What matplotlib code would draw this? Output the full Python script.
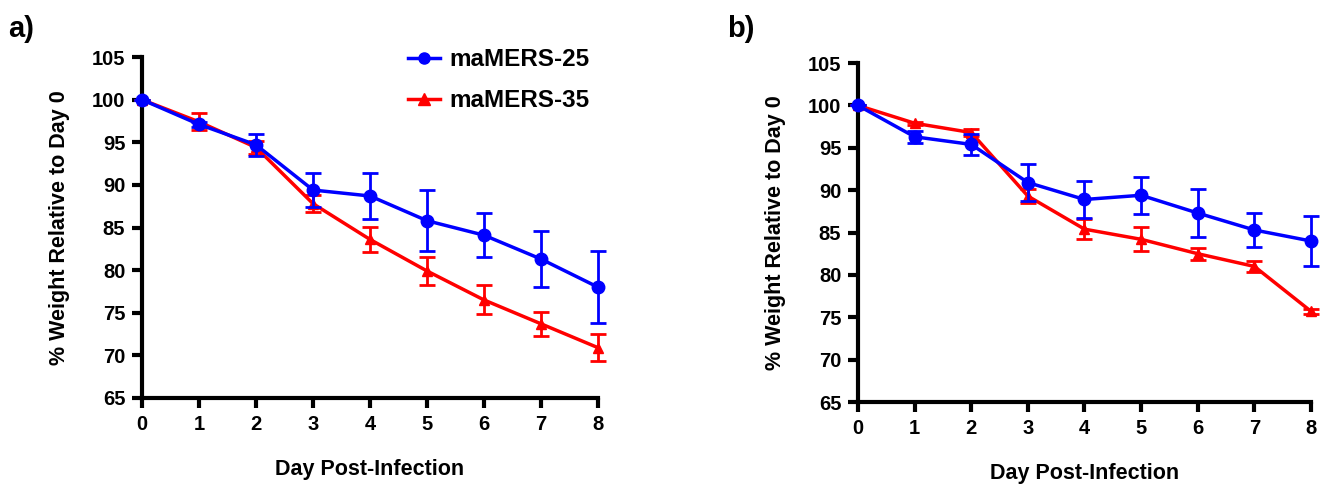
import matplotlib.pyplot as plt
from matplotlib.lines import Line2D
import numpy as np

plt.rcParams['font.family'] = ['Liberation Sans', 'DejaVu Sans']
plt.rcParams['font.weight'] = 'bold'

days = np.arange(0, 9)

# panel a
a_blue = [100, 97.1, 94.7, 89.4, 88.7, 85.8, 84.1, 81.3, 78.0]
a_blue_err = [0, 0.3, 1.3, 2.0, 2.7, 3.6, 2.6, 3.3, 4.2]
a_red = [100, 97.4, 94.4, 87.8, 83.6, 79.9, 76.5, 73.7, 70.9]
a_red_err = [0, 1.0, 0.8, 1.0, 1.5, 1.6, 1.7, 1.4, 1.6]

# panel b
b_blue = [100, 96.3, 95.4, 90.9, 88.9, 89.4, 87.3, 85.3, 84.0]
b_blue_err = [0, 0.7, 1.2, 2.2, 2.2, 2.2, 2.8, 2.0, 3.0]
b_red = [100, 97.9, 96.8, 89.3, 85.4, 84.2, 82.5, 81.0, 75.7]
b_red_err = [0, 0.2, 0.4, 0.8, 1.2, 1.4, 0.7, 0.7, 0.3]

labels = ['maMERS-25', 'maMERS-35']
yticks = [65, 70, 75, 80, 85, 90, 95, 100, 105]

blue = '#0000ff'
red = '#ff0000'

fig = plt.figure(figsize=(13.31, 4.87), dpi=100)
ax_a = fig.add_axes([0.1067, 0.1828, 0.3426, 0.700])
ax_b = fig.add_axes([0.6446, 0.1745, 0.3404, 0.696])


def draw(ax, b_vals, b_err, r_vals, r_err, legend=False):
    ax.errorbar(days, r_vals, yerr=r_err, color=red, marker='^', markersize=7.5,
                linewidth=2.5, elinewidth=2, capsize=6, capthick=2,
                clip_on=False, zorder=3)
    ax.errorbar(days, b_vals, yerr=b_err, color=blue, marker='o', markersize=9,
                linewidth=2.5, elinewidth=2, capsize=6, capthick=2,
                clip_on=False, zorder=4)
    ax.set_xlim(0, 8)
    ax.set_ylim(65, 105)
    ax.set_xticks(days)
    ax.set_yticks(yticks)
    for s in ['top', 'right']:
        ax.spines[s].set_visible(False)
    for s in ['left', 'bottom']:
        ax.spines[s].set_linewidth(3)
    ax.tick_params(width=3, length=7, labelsize=14.5, pad=5)
    for t in ax.get_xticklabels() + ax.get_yticklabels():
        t.set_fontweight('bold')
    ax.set_xlabel('Day Post-Infection', fontsize=15.5, fontweight='bold', labelpad=18)
    ax.set_ylabel('% Weight Relative to Day 0', fontsize=15.5, fontweight='bold', labelpad=16)
    if legend:
        handles = [Line2D([], [], color=blue, marker='o', markersize=8, linewidth=2.5),
                   Line2D([], [], color=red, marker='^', markersize=8, linewidth=2.5)]
        leg = ax.legend(handles, labels, loc='upper right', bbox_to_anchor=(1.03, 1.09),
                        frameon=False, fontsize=17.5, handlelength=1.3,
                        handletextpad=0.4, labelspacing=0.75)
        for t in leg.get_texts():
            t.set_fontweight('bold')


draw(ax_a, a_blue, a_blue_err, a_red, a_red_err, legend=True)
draw(ax_b, b_blue, b_blue_err, b_red, b_red_err)

fig.text(0.006, 0.925, 'a)', fontsize=21, fontweight='bold')
fig.text(0.546, 0.925, 'b)', fontsize=21, fontweight='bold')

fig.savefig('out.png', dpi=100)
